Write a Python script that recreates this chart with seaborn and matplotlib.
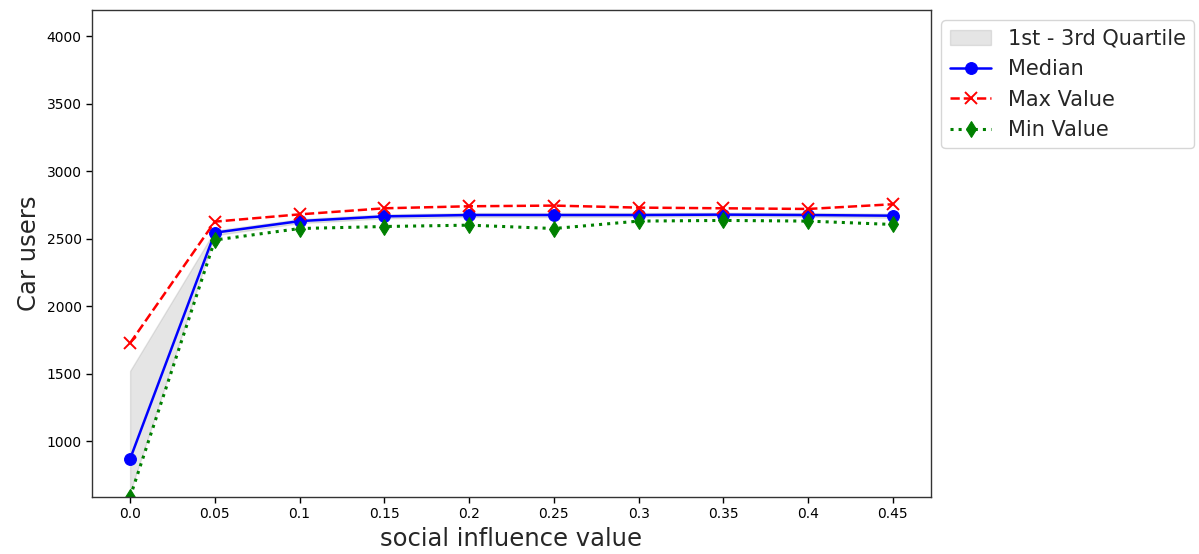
import matplotlib
matplotlib.use("Agg")
import matplotlib.pyplot as plt
import seaborn as sns
import pandas as pd

# social influence levels and car-user statistics across runs
influence = [0.0, 0.05, 0.1, 0.15, 0.2, 0.25, 0.3, 0.35, 0.4, 0.45]
median_users = [867, 2544, 2630, 2665, 2675, 2675, 2675, 2678, 2675, 2670]
max_users = [1726, 2626, 2680, 2725, 2740, 2745, 2730, 2725, 2720, 2755]
min_users = [585, 2490, 2575, 2590, 2600, 2575, 2630, 2635, 2630, 2605]
q1_users = [620, 2525, 2615, 2650, 2660, 2660, 2662, 2665, 2662, 2655]
q3_users = [1520, 2560, 2645, 2680, 2690, 2690, 2690, 2692, 2690, 2685]

df = pd.DataFrame({
    "influence": influence,
    "median": median_users,
    "max": max_users,
    "min": min_users,
    "q1": q1_users,
    "q3": q3_users,
})

sns.set_style("white")
plt.rcParams["font.family"] = ["DejaVu Sans"]

fig = plt.figure(figsize=(11.99, 5.54), dpi=100)
ax = fig.add_axes([0.0767, 0.1029, 0.6998, 0.8791])

ax.fill_between(df["influence"], df["q1"], df["q3"], color="gray", alpha=0.2,
                label="1st - 3rd Quartile")
sns.lineplot(data=df, x="influence", y="median", ax=ax, color="blue",
             marker="o", markersize=8.5, markeredgecolor="blue",
             linestyle="-", linewidth=1.8, label="Median")
sns.lineplot(data=df, x="influence", y="max", ax=ax, color="red",
             marker="x", markersize=8, markeredgecolor="red", markeredgewidth=1.4,
             linestyle="--", linewidth=1.8, label="Max Value")
sns.lineplot(data=df, x="influence", y="min", ax=ax, color="green",
             marker="d", markersize=8.5, markeredgecolor="green",
             linestyle=":", linewidth=2.2, label="Min Value")

ax.set_xticks(influence)
ax.set_xticklabels([str(v) for v in influence], fontsize=10)
ax.set_xlim(-0.0225, 0.4725)
ax.set_ylim(585, 4195)
ax.set_yticks([1000, 1500, 2000, 2500, 3000, 3500, 4000])
ax.tick_params(axis="both", labelsize=10, direction="out", length=4, width=1,
               left=True, bottom=True, colors="black")
for s in ax.spines.values():
    s.set_color("#333333")
    s.set_linewidth(1)

ax.set_xlabel("social influence value", fontsize=17.5)
ax.set_ylabel("Car users", fontsize=17.5)

ax.legend(loc="upper left", bbox_to_anchor=(1.0, 1.0), fontsize=15,
          frameon=True, framealpha=0.8, edgecolor="#cccccc")

fig.savefig("out.png", dpi=100)
